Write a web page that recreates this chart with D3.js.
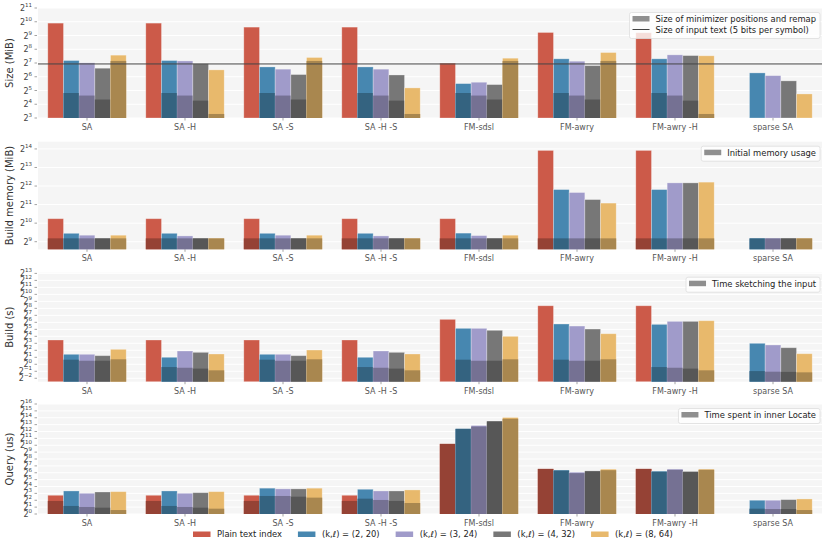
<!DOCTYPE html>
<html>
<head>
<meta charset="utf-8">
<script src="https://cdn.jsdelivr.net/npm/d3@7"></script>
<style>
  body { margin: 0; background: #fff; }
  svg { font-family: 'DejaVu Sans', sans-serif; }
</style>
</head>
<body>
<div id="chart"></div>
<script>
// categories
const groups = ['SA', 'SA -H', 'SA -S', 'SA -H -S', 'FM-sdsl', 'FM-awry', 'FM-awry -H', 'sparse SA']
const seriesKL = [null, [2, 20], [3, 24], [4, 32], [8, 64]]
const colors = ['#cc5a49', '#4787b0', '#a09bca', '#777777', '#e8b96c']

// size (MiB): totals and minimizer positions + remap part
const sizePlain = [955, 955, 781, 781, 127, 596, 588, null]
const size220 = [145, 145, 105, 105, 45.3, 158, 158, 77.7]
const size324 = [129, 142, 93.7, 93.7, 48.5, 140, 193, 67.6]
const size432 = [98.4, 123, 71.5, 70, 43.1, 112, 186, 52]
const size864 = [190, 90.5, 169, 36.5, 163, 217, 184, 26.9]
const sizeMin220 = [28.2, 28.2, 28.2, 28.2, 28.2, 28.2, 28.2, null]
const sizeMin324 = [24.8, 24.8, 24.8, 24.8, 24.8, 24.8, 24.8, null]
const sizeMin432 = [20.3, 19.2, 20.3, 19.2, 20.3, 20.3, 19.2, null]
const sizeMin864 = [142, 9.8, 142, 9.8, 142, 142, 9.8, null]
const inputTextSize = 122

// build memory (MiB): totals and initial memory usage
const memPlain = [1209, 1209, 1209, 1209, 1209, 15490, 15490, null]
const mem220 = [700, 700, 700, 700, 705, 3590, 3590, 580]
const mem324 = [652, 635, 652, 635, 643, 3214, 4608, 580]
const mem432 = [580, 580, 580, 580, 580, 2469, 4608, 580]
const mem864 = [652, 580, 652, 580, 652, 2165, 4737, 580]
const memInitial = [580, 580, 580, 580, 580, 580, 580, 580]

// build time (s): totals and sketching time
const buildPlain = [11.1, 11.1, 11.1, 11.1, 86, 331, 331, null]
const build220 = [2.69, 2.0, 2.69, 2.0, 35.3, 54.2, 52.3, 8.0]
const build324 = [2.69, 3.73, 2.69, 3.73, 35.3, 44.3, 70.5, 6.77]
const build432 = [2.35, 3.27, 2.35, 3.27, 29.0, 32.9, 70.5, 5.17]
const build864 = [4.41, 2.77, 4.11, 2.77, 16, 20.7, 75.1, 2.85]
const sketch220 = [1.58, 0.76, 1.58, 0.76, 1.58, 1.58, 0.76, 0.51]
const sketch324 = [1.42, 0.71, 1.42, 0.71, 1.42, 1.42, 0.71, 0.48]
const sketch432 = [1.42, 0.65, 1.42, 0.65, 1.42, 1.42, 0.65, 0.47]
const sketch864 = [1.64, 0.55, 1.64, 0.55, 1.64, 1.64, 0.55, 0.45]

// query time (us): totals and inner locate time
const queryPlain = [6.6, 6.6, 6.6, 6.6, 1176, 94.4, 94.4, null]
const query220 = [10.2, 10.2, 13.5, 12.1, 5367, 82.7, 74.5, 4.0]
const query324 = [8.06, 8.06, 12.6, 10.2, 7486, 67.6, 91.8, 4.0]
const query432 = [9.19, 8.57, 12.6, 10.2, 11665, 77.2, 73.5, 4.26]
const query864 = [9.51, 9.51, 13.5, 11.3, 16837, 91.8, 91.8, 4.56]
const locatePlain = [3.73, 3.73, 3.73, 3.73, 1176, 94.4, 94.4, null]
const locate220 = [2.25, 2.25, 6.15, 4.69, 5367, 80.4, 71.0, 1.71]
const locate324 = [2.03, 2.03, 6.15, 4.11, 6746, 61.4, 86.2, 1.65]
const locate432 = [1.89, 1.89, 5.74, 3.73, 11268, 73.5, 68.6, 1.65]
const locate864 = [1.49, 1.71, 5.21, 3.03, 14760, 82.7, 86.2, 1.49]

const panels = [
  { label: 'Size (MiB)', top: 8, bottom: 118, lo: 3, hi: 11,
    totals: [sizePlain, size220, size324, size432, size864],
    parts: [null, sizeMin220, sizeMin324, sizeMin432, sizeMin864],
    legend: ['Size of minimizer positions and remap', 'Size of input text (5 bits per symbol)'] },
  { label: 'Build memory (MiB)', top: 141.7, bottom: 249.3, lo: 8.59, hi: 14.39,
    totals: [memPlain, mem220, mem324, mem432, mem864],
    parts: [memInitial, memInitial, memInitial, memInitial, memInitial],
    legend: ['Initial memory usage'] },
  { label: 'Build (s)', top: 272.7, bottom: 381.7, lo: -2.49, hi: 13.1,
    totals: [buildPlain, build220, build324, build432, build864],
    parts: [null, sketch220, sketch324, sketch432, sketch864],
    legend: ['Time sketching the input'] },
  { label: 'Query (us)', top: 404, bottom: 514, lo: 0, hi: 16,
    totals: [queryPlain, query220, query324, query432, query864],
    parts: [locatePlain, locate220, locate324, locate432, locate864],
    legend: ['Time spent in inner Locate'] }
]

const width = 830
const height = 549
const plotLeft = 38
const plotRight = 822
const legendFont = 8.4

const svg = d3.select('#chart').append('svg')
  .attr('width', width)
  .attr('height', height)

const scaleX = d3.scaleBand().domain(groups).range([plotLeft, plotRight])
const scaleSeries = d3.scaleBand().domain(d3.range(5))
  .range([scaleX.bandwidth() * 0.1, scaleX.bandwidth() * 0.9])

const darken = c => d3.interpolateRgb(c, '#000')(0.27)

panels.forEach(p => {
  const scaleY = d3.scaleLog().base(2)
    .domain([2 ** p.lo, 2 ** p.hi])
    .range([p.bottom, p.top])

  const $g = svg.append('g')

  $g.append('rect')
    .attr('x', plotLeft)
    .attr('y', p.top)
    .attr('width', plotRight - plotLeft)
    .attr('height', p.bottom - p.top)
    .attr('fill', '#f5f5f5')

  const exps = d3.range(Math.ceil(p.lo), Math.floor(p.hi) + 1)

  // grid
  $g.selectAll('.grid')
    .data(exps)
    .enter()
    .append('line')
    .attr('x1', plotLeft)
    .attr('x2', plotRight)
    .attr('y1', e => scaleY(2 ** e))
    .attr('y2', e => scaleY(2 ** e))
    .attr('stroke', '#fff')
    .attr('stroke-width', 1)

  // y ticks
  $g.selectAll('.ytick')
    .data(exps)
    .enter()
    .append('line')
    .attr('x1', 34.5)
    .attr('x2', 37)
    .attr('y1', e => scaleY(2 ** e))
    .attr('y2', e => scaleY(2 ** e))
    .attr('stroke', '#666')
    .attr('stroke-width', 0.6)

  const labels = $g.selectAll('.ylab')
    .data(exps)
    .enter()
    .append('text')
    .attr('x', 32)
    .attr('y', e => scaleY(2 ** e) + 3)
    .attr('text-anchor', 'end')
    .attr('fill', '#444')
  labels.append('tspan').attr('font-size', 8).text('2')
  labels.append('tspan').attr('font-size', 5.5).attr('dy', -4)
    .text(e => (e < 0 ? '\u2212' + (-e) : e))

  // y label
  $g.append('text')
    .attr('transform', `translate(13, ${(p.top + p.bottom) / 2}) rotate(-90)`)
    .attr('text-anchor', 'middle')
    .attr('font-size', 10)
    .attr('fill', '#333')
    .text(p.label)

  // bars
  p.totals.forEach((vals, si) => {
    const c = colors[si]
    const barGroups = $g.selectAll(`.bar-${si}`)
      .data(groups.map((gname, gi) => ({ g: gname, v: vals[gi], part: p.parts[si] ? p.parts[si][gi] : null })))
      .enter()
      .filter(d => d.v != null)

    barGroups.append('rect')
      .attr('x', d => scaleX(d.g) + scaleSeries(si))
      .attr('y', d => scaleY(d.v))
      .attr('width', scaleSeries.bandwidth())
      .attr('height', d => p.bottom - scaleY(d.v))
      .attr('fill', c)
      .attr('stroke', 'rgba(255,255,255,0.35)')
      .attr('stroke-width', 0.8)

    barGroups.filter(d => d.part != null)
      .append('rect')
      .attr('x', d => scaleX(d.g) + scaleSeries(si))
      .attr('y', d => scaleY(d.part))
      .attr('width', scaleSeries.bandwidth())
      .attr('height', d => p.bottom - scaleY(d.part))
      .attr('fill', darken(c))
  })

  // x ticks + labels
  $g.selectAll('.xtick')
    .data(groups)
    .enter()
    .append('line')
    .attr('x1', d => scaleX(d) + scaleX.bandwidth() / 2)
    .attr('x2', d => scaleX(d) + scaleX.bandwidth() / 2)
    .attr('y1', p.bottom)
    .attr('y2', p.bottom + 2.5)
    .attr('stroke', '#666')
    .attr('stroke-width', 0.6)

  $g.selectAll('.xlab')
    .data(groups)
    .enter()
    .append('text')
    .attr('x', d => scaleX(d) + scaleX.bandwidth() / 2)
    .attr('y', p.bottom + 12)
    .attr('text-anchor', 'middle')
    .attr('font-size', 8)
    .attr('fill', '#555')
    .text(d => d)

  // input text reference line
  if (p.label === 'Size (MiB)') {
    $g.append('line')
      .attr('x1', plotLeft)
      .attr('x2', plotRight)
      .attr('y1', scaleY(inputTextSize))
      .attr('y2', scaleY(inputTextSize))
      .attr('stroke', '#444')
      .attr('stroke-width', 1)
  }

  // legend in panel
  const $leg = $g.append('g')
  const legTop = p.top + 4.5
  const box = $leg.append('rect')
    .attr('y', legTop)
    .attr('rx', 2)
    .attr('fill', 'rgba(255,255,255,0.8)')
    .attr('stroke', '#ddd')
    .attr('stroke-width', 0.8)
  let maxW = 0
  const items = p.legend.map((t, i) => {
    const txt = $leg.append('text')
      .attr('y', legTop + 9.5 + i * 11)
      .attr('font-size', legendFont)
      .attr('fill', '#222')
      .text(t)
    maxW = Math.max(maxW, txt.node().getComputedTextLength())
    return txt
  })
  const boxW = 26 + maxW + 4
  const boxX = 820 - boxW
  box.attr('x', boxX).attr('width', boxW).attr('height', p.legend.length * 11 + 4)
  items.forEach((txt, i) => {
    txt.attr('x', boxX + 26)
    if (i === 0) {
      $leg.append('rect')
        .attr('x', boxX + 3)
        .attr('y', legTop + 3.5)
        .attr('width', 17)
        .attr('height', 5.5)
        .attr('fill', '#8f8f8f')
    } else {
      $leg.append('line')
        .attr('x1', boxX + 3)
        .attr('x2', boxX + 20)
        .attr('y1', legTop + 6 + i * 11)
        .attr('y2', legTop + 6 + i * 11)
        .attr('stroke', '#444')
        .attr('stroke-width', 1)
    }
  })
})

// bottom legend
let lx = 193
const ly = 537
seriesKL.forEach((kl, i) => {
  svg.append('rect')
    .attr('x', lx)
    .attr('y', ly - 5.5)
    .attr('width', 17.5)
    .attr('height', 5.5)
    .attr('fill', colors[i])
  const t = svg.append('text')
    .attr('x', lx + 24)
    .attr('y', ly)
    .attr('font-size', legendFont)
    .attr('fill', '#222')
  if (kl === null) {
    t.text('Plain text index')
  } else {
    t.append('tspan').text('(k,')
    t.append('tspan').attr('font-style', 'italic').text('\u2113')
    t.append('tspan').text(`) = (${kl[0]}, ${kl[1]})`)
  }
  lx += 24 + t.node().getComputedTextLength() + 16
})
</script>
</body>
</html>
